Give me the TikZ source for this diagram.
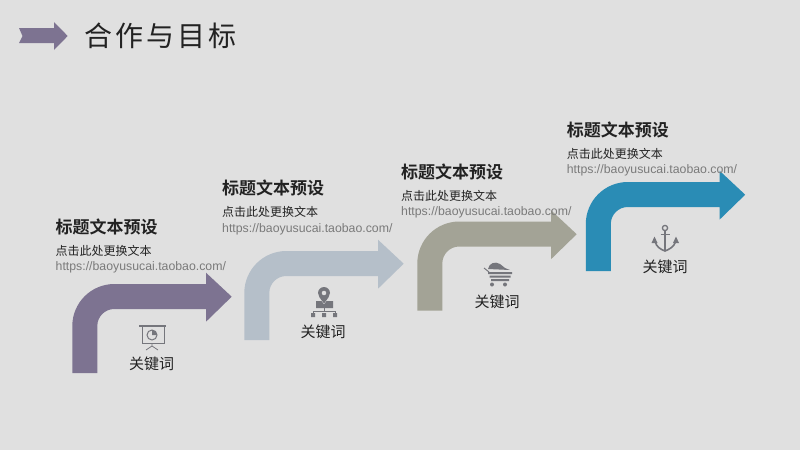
\documentclass[tikz,border=0pt]{standalone}
\usepackage{fontspec}
\setmainfont{Liberation Sans}
\newfontfamily\cjk{Noto Sans CJK SC}[BoldFont={Noto Sans CJK SC Bold}]
\definecolor{bgc}{HTML}{E0E0E0}
\definecolor{arrA}{HTML}{7D7391}
\definecolor{arrB}{HTML}{B5BFC9}
\definecolor{arrC}{HTML}{A3A396}
\definecolor{arrD}{HTML}{2A8CB5}
\definecolor{icoc}{HTML}{75767C}
\definecolor{inkc}{HTML}{222222}
\definecolor{urlc}{HTML}{7A7A7A}
\newcommand{\bentarrow}[2]{%
  \fill[#2,shift={(#1)}] (72.3,373) -- (72.3,326)
    .. controls (72.3,302.8) and (91.1,284) .. (114.3,284) -- (206,284) -- (206,272.7) -- (231.7,296.7)
    -- (206,321.7) -- (206,309) -- (114.3,309)
    .. controls (104.9,309) and (97.3,316.6) .. (97.3,326) -- (97.3,373) -- cycle;}
\tikzset{
  headtext/.style={anchor=west,inner sep=0pt,text=inkc,font=\cjk\bfseries\fontsize{17}{17}\selectfont},
  subtext/.style={anchor=west,inner sep=0pt,text=inkc,font=\cjk\fontsize{12}{12}\selectfont},
  urltext/.style={anchor=west,inner sep=0pt,text=urlc,font=\fontsize{12.3}{13}\selectfont},
  keytext/.style={inner sep=0pt,text=inkc,font=\cjk\fontsize{15}{15}\selectfont},
  titletext/.style={anchor=west,inner sep=0pt,text=inkc,font=\cjk\fontsize{28}{28}\selectfont\addfontfeature{LetterSpace=11}},
  iconline/.style={draw=icoc,line width=1pt},
}
\begin{document}
\begin{tikzpicture}[y=-1pt,x=1pt]
\useasboundingbox (0,0) rectangle (800,450);
\fill[bgc] (0,0) rectangle (800,450);
% header arrow
\fill[arrA] (19,28) -- (54,28) -- (54,22) -- (67.7,36) -- (54,50) -- (54,43) -- (19,43) -- (22.5,36) -- cycle;
\node[titletext] (title) at (84,36) {合作与目标};
% bent arrows
\bentarrow{0,0}{arrA}
\bentarrow{172,-33}{arrB}
\bentarrow{345,-62.5}{arrC}
\bentarrow{513.5,-102}{arrD}
% text block 1
\node[headtext] (h1) at (55.5,227) {标题文本预设};
\node[subtext] (s1) at (55.5,251) {点击此处更换文本};
\node[urltext] (u1) at (55.5,267) {https://baoyusucai.taobao.com/};
\node[keytext] (k1) at (151.5,364) {关键词};
% text block 2
\node[headtext] (h2) at (222,188) {标题文本预设};
\node[subtext] (s2) at (222,211.7) {点击此处更换文本};
\node[urltext] (u2) at (222,229) {https://baoyusucai.taobao.com/};
\node[keytext] (k2) at (323,331.7) {关键词};
% text block 3
\node[headtext] (h3) at (401,171.7) {标题文本预设};
\node[subtext] (s3) at (401,195.7) {点击此处更换文本};
\node[urltext] (u3) at (401,212) {https://baoyusucai.taobao.com/};
\node[keytext] (k3) at (497,301.7) {关键词};
% text block 4
\node[headtext] (h4) at (566.7,130) {标题文本预设};
\node[subtext] (s4) at (566.7,154) {点击此处更换文本};
\node[urltext] (u4) at (566.7,170.7) {https://baoyusucai.taobao.com/};
\node[keytext] (k4) at (665,266.7) {关键词};
% icon 1: presentation board
\fill[icoc] (139,324.5) rectangle (166,326.5);
\draw[iconline] (142,326) rectangle (164,343);
\draw[iconline] (152,335) circle[radius=5];
\fill[icoc] (152,335) -- (152,330) .. controls (154.8,330) and (157,332.2) .. (157,335) -- cycle;
\draw[iconline,line width=.8pt] (152,343) -- (152,346) (152,346) -- (146,350) (152,346) -- (158,350);
% icon 2: pin and tree
\fill[icoc,even odd rule] (324,303.5) .. controls (320,298) and (318,296) .. (318,293)
  .. controls (318,289.7) and (320.7,287) .. (324,287) .. controls (327.3,287) and (330,289.7) .. (330,293)
  .. controls (330,296) and (328,298) .. (324,303.5) -- cycle
  (324,293) circle[radius=2.4];
\fill[icoc] (316,301) -- (321.5,301) -- (324,304.5) -- (326.5,301) -- (333,301) -- (333,308) -- (316,308) -- cycle;
\draw[iconline] (324,308) -- (324,312) (313,314) -- (313,311.5) -- (335,311.5) -- (335,314);
\fill[icoc] (311,313) rectangle (315,317) (322,313) rectangle (326,317) (333,313) rectangle (337,317);
% icon 3: cart
\fill[icoc] (488,269) .. controls (489,263) and (495,261) .. (500,264) -- (505,268) -- (510,270) -- cycle;
\draw[iconline] (484,268) -- (489,272);
\fill[icoc] (488,272) rectangle (512,274) (489.5,275.5) rectangle (510.5,277.5) (491,279) rectangle (509,281);
\fill[icoc] (492,284.5) circle[radius=2] (505,284.5) circle[radius=2];
% icon 4: anchor
\draw[iconline,line width=1.3pt] (665,228) circle[radius=2.6];
\draw[iconline,line width=1.6pt] (665,230.5) -- (665,250);
\draw[iconline,line width=1.2pt] (660.5,234.5) -- (669.5,234.5);
\draw[iconline,line width=1.6pt] (655,241) .. controls (656,247) and (661,249.5) .. (665,251)
  .. controls (669,249.5) and (674,247) .. (676,241);
\fill[icoc] (654.5,236.5) -- (651.5,243) -- (657.5,243) -- cycle;
\fill[icoc] (676,236.5) -- (673,243) -- (679,243) -- cycle;
\end{tikzpicture}
\end{document}
